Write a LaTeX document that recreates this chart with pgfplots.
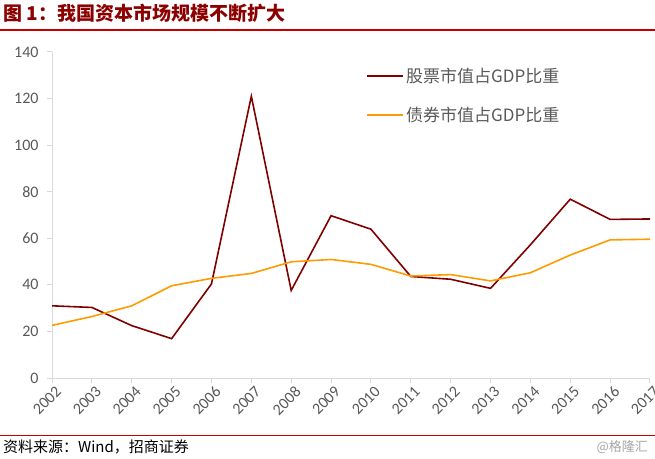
\documentclass[border=0pt]{standalone}
\usepackage{fontspec}
\setmainfont{Carlito}
\newfontfamily\cjk{Noto Sans CJK SC}
\usepackage{pgfplots}
\pgfplotsset{compat=1.18}
\definecolor{stockc}{RGB}{128,0,0}
\definecolor{bondc}{RGB}{255,155,0}
\definecolor{titlec}{RGB}{140,0,0}
\definecolor{linec}{RGB}{200,0,0}
\definecolor{tickc}{RGB}{89,89,89}
\definecolor{axc}{RGB}{217,217,217}
\begin{document}
\begin{tikzpicture}
\path[use as bounding box] (0pt,0pt) rectangle (655pt,458pt);
\node[anchor=base west, text=titlec, font=\cjk\bfseries\fontsize{19}{22}\selectfont, inner sep=0] at (3pt,437pt) {图 1：我国资本市场规模不断扩大};
\draw[linec, line width=1.2pt] (0pt,428pt) -- (655pt,428pt);
\draw[linec, line width=1pt] (0pt,23pt) -- (655pt,23pt);
\node[anchor=west, font=\cjk\fontsize{15}{18}\selectfont, inner sep=0] at (3pt,11pt) {资料来源：Wind，招商证券};
\node[anchor=east, text=gray!70, font=\cjk\fontsize{13}{15}\selectfont, inner sep=0] at (648pt,11pt) {@格隆汇};
\begin{axis}[
  at={(52pt,80pt)}, anchor=origin,
  scale only axis, width=598pt, height=326pt,
  xmin=2002, xmax=2017, ymin=0, ymax=140,
  xtick={2002,...,2017}, ytick={0,20,...,140},
  axis x line*=bottom, axis y line*=left,
  axis line style={axc, line width=1pt, -},
  tick style={axc, line width=1pt},
  tick align=outside, major tick length=5pt,
  tick label style={text=tickc, font=\fontsize{16}{18}\selectfont},
  /pgf/number format/assume math mode=true,
  /pgf/number format/1000 sep={},
  xticklabel style={rotate=45, anchor=north east, inner sep=0.5pt, yshift=-3pt, xshift=1pt},
  yticklabel style={xshift=-5pt},
  legend style={at={(0.52,0.965)}, anchor=north west, draw=none, fill=none,
    font=\cjk\fontsize{17}{20}\selectfont, text=tickc, row sep=20pt,
    cells={anchor=west}},
  legend image code/.code={\draw[#1, line width=2pt] (0pt,0pt) -- (36pt,0pt);},
]
\addplot[stockc, line width=1.6pt] coordinates {
(2002,31.0) (2003,30.3) (2004,22.5) (2005,16.9) (2006,40.4) (2007,121.0)
(2008,37.6) (2009,69.7) (2010,63.9) (2011,43.6) (2012,42.4) (2013,38.5)
(2014,57.2) (2015,76.8) (2016,68.1) (2017,68.3)};
\addlegendentry{股票市值占GDP比重}
\addplot[bondc, line width=1.6pt] coordinates {
(2002,22.6) (2003,26.4) (2004,31.0) (2005,39.6) (2006,42.8) (2007,44.9)
(2008,49.9) (2009,50.9) (2010,48.8) (2011,43.8) (2012,44.4) (2013,41.7)
(2014,45.2) (2015,52.8) (2016,59.3) (2017,59.6)};
\addlegendentry{债券市值占GDP比重}
\end{axis}
\end{tikzpicture}
\end{document}
